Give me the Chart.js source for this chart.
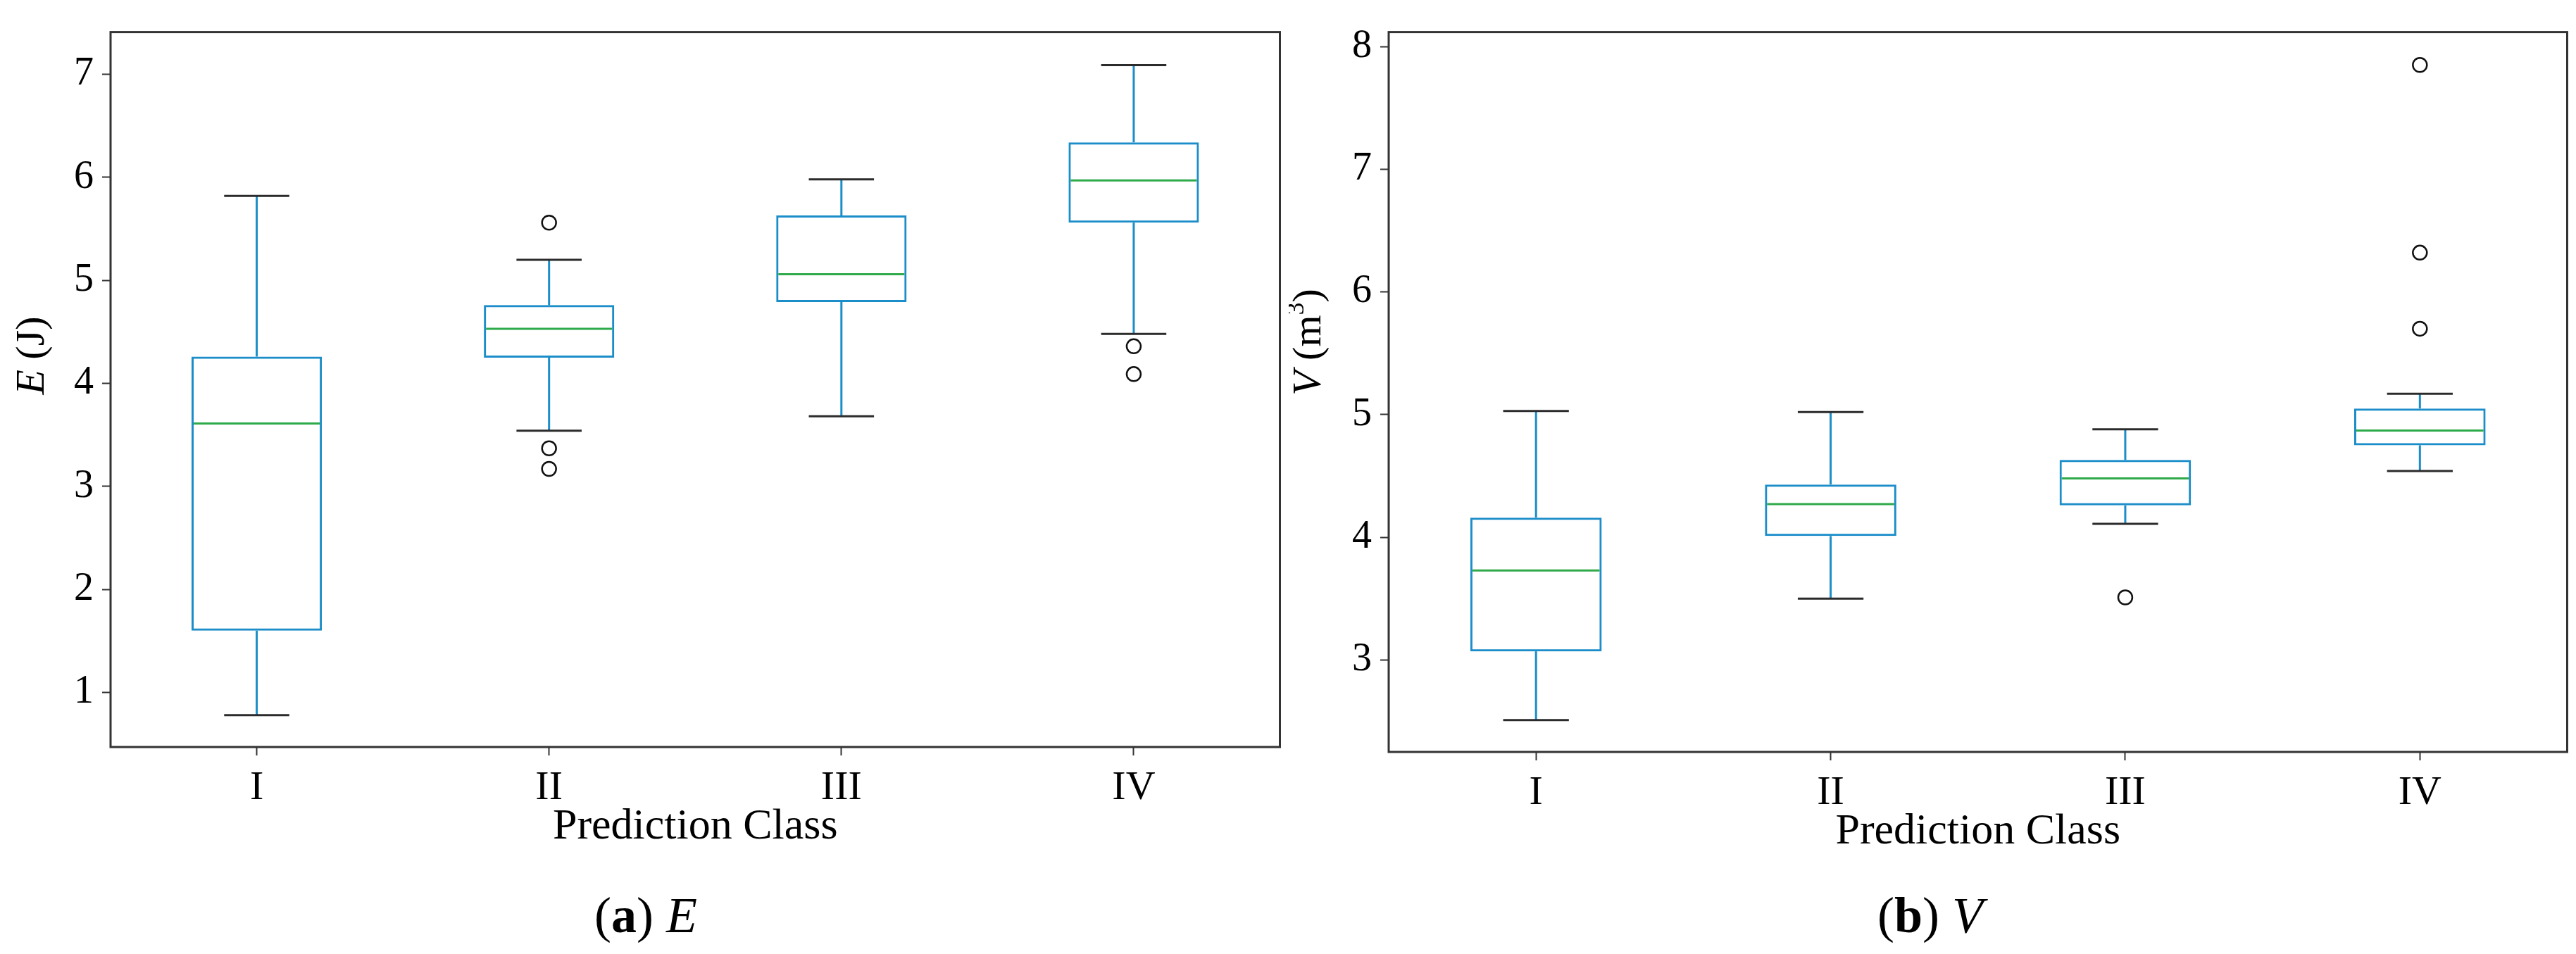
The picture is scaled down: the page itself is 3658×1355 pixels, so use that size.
<!DOCTYPE html>
<html><head><meta charset="utf-8">
<script src="https://cdn.jsdelivr.net/npm/chart.js@4.4.1/dist/chart.umd.min.js"></script>
<style>
html,body{margin:0;padding:0;background:#fff;}
body{width:3658px;height:1355px;position:relative;overflow:hidden;font-family:"Liberation Serif","Times New Roman",serif;}
.panel{position:absolute;}
.cap{position:absolute;text-align:center;font-size:72px;line-height:72px;color:#000;font-family:"Liberation Serif","Times New Roman",serif;}
</style></head><body>
<div class="panel" style="left:0;top:0;width:1830px;height:1230px;"><canvas id="cA"></canvas></div>
<div class="panel" style="left:1830px;top:0;width:1828px;height:1237px;"><canvas id="cB"></canvas></div>
<div class="cap" style="left:0;top:1264px;width:1834px;">(<b>a</b>) <i>E</i></div>
<div class="cap" style="left:1830px;top:1264px;width:1822px;">(<b>b</b>) <i>V</i></div>
<script>
const categories = ['I', 'II', 'III', 'IV'];

// Panel (a): E (J)
const eWhiskerLow  = [0.78, 3.54, 3.68, 4.48];
const eQ1          = [1.60, 4.25, 4.79, 5.56];
const eMedian      = [3.61, 4.53, 5.06, 5.97];
const eQ3          = [4.26, 4.76, 5.63, 6.34];
const eWhiskerHigh = [5.82, 5.20, 5.98, 7.09];
const eOutliers    = [[], [5.56, 3.37, 3.17], [], [4.36, 4.09]];
const eTicks       = [1, 2, 3, 4, 5, 6, 7];

// Panel (b): V (m3)
const vWhiskerLow  = [2.51, 3.50, 4.11, 4.54];
const vQ1          = [3.07, 4.01, 4.26, 4.75];
const vMedian      = [3.73, 4.27, 4.48, 4.87];
const vQ3          = [4.16, 4.43, 4.63, 5.05];
const vWhiskerHigh = [5.03, 5.02, 4.88, 5.17];
const vOutliers    = [[], [], [3.51], [7.85, 6.32, 5.70]];
const vTicks       = [3, 4, 5, 6, 7, 8];

const BLUE = '#1b8dc8';
const GREEN = '#2eaa4a';
const CAP = '#2b2b2b';
const FRAME = '#333333';
const FONT = '"Liberation Serif", "Times New Roman", serif';

Chart.defaults.font.family = FONT;
Chart.defaults.color = '#000';

function boxPlugin(stats, title) {
  return {
    id: 'boxExtras',
    afterDatasetsDraw(chart) {
      const ctx = chart.ctx;
      const y = chart.scales.y;
      const meta = chart.getDatasetMeta(0);
      ctx.save();
      ctx.lineCap = 'butt';
      stats.low.forEach((lo, i) => {
        const bar = meta.data[i];
        const cx = bar.x, w = bar.width;
        const pLo = y.getPixelForValue(lo);
        const pHi = y.getPixelForValue(stats.high[i]);
        const pQ1 = y.getPixelForValue(stats.q1[i]);
        const pQ3 = y.getPixelForValue(stats.q3[i]);
        const pMed = y.getPixelForValue(stats.med[i]);
        const seg = (x1, y1, x2, y2) => { ctx.beginPath(); ctx.moveTo(x1, y1); ctx.lineTo(x2, y2); ctx.stroke(); };
        ctx.lineWidth = 3;
        ctx.strokeStyle = BLUE;
        seg(cx, pQ3, cx, pHi);
        seg(cx, pQ1, cx, pLo);
        ctx.strokeStyle = CAP;
        seg(cx - w / 4, pHi, cx + w / 4, pHi);
        seg(cx - w / 4, pLo, cx + w / 4, pLo);
        ctx.strokeStyle = GREEN;
        seg(cx - w / 2 + 3, pMed, cx + w / 2 - 3, pMed);
      });
      const a = chart.chartArea;
      ctx.strokeStyle = FRAME;
      ctx.lineWidth = 3;
      ctx.strokeRect(a.left, a.top, a.right - a.left, a.bottom - a.top);
      // rotated y-axis title with mixed styles
      ctx.translate(title.x, title.y);
      ctx.rotate(-Math.PI / 2);
      ctx.fillStyle = '#000';
      ctx.textBaseline = 'alphabetic';
      ctx.textAlign = 'left';
      let total = 0;
      title.parts.forEach(p => { ctx.font = p.font; total += ctx.measureText(p.t).width; });
      let px = -total / 2;
      title.parts.forEach(p => { ctx.font = p.font; ctx.fillText(p.t, px, -(p.raise || 0)); px += ctx.measureText(p.t).width; });
      ctx.restore();
    }
  };
}

function makeChart(id, opts) {
  const boxes = categories.map((c, i) => [opts.q1[i], opts.q3[i]]);
  const pts = [];
  opts.outliers.forEach((arr, i) => arr.forEach(v => pts.push({ x: categories[i], y: v })));
  return new Chart(document.getElementById(id), {
    type: 'bar',
    data: {
      labels: categories,
      datasets: [
        {
          data: boxes,
          backgroundColor: 'rgba(255,255,255,0)',
          borderColor: BLUE,
          borderWidth: 3,
          borderSkipped: false,
          barPercentage: 0.446,
          categoryPercentage: 1
        },
        {
          type: 'scatter',
          data: pts,
          pointRadius: 10,
          pointBorderWidth: 2.5,
          pointBorderColor: '#111',
          pointBackgroundColor: 'rgba(0,0,0,0)',
          showLine: false
        }
      ]
    },
    options: {
      responsive: true,
      maintainAspectRatio: false,
      animation: false,
      events: [],
      layout: { padding: { top: opts.padTop, right: 12, left: 0, bottom: 0 } },
      plugins: { legend: { display: false }, tooltip: { enabled: false } },
      scales: {
        x: {
          type: 'category',
          offset: true,
          afterFit: s => { s.height = 169; },
          grid: { display: true, offset: false, drawOnChartArea: false, drawTicks: true, tickLength: 12, tickColor: FRAME, tickWidth: 2 },
          border: { display: false },
          ticks: { font: { size: 58 }, color: '#000', padding: 12, maxRotation: 0 },
          title: { display: true, text: 'Prediction Class', font: { size: 62 }, color: '#000', padding: { top: 0, bottom: 18 } }
        },
        y: {
          type: 'linear',
          min: opts.min,
          max: opts.max,
          afterFit: s => { s.width = opts.yWidth; },
          afterBuildTicks: s => { s.ticks = opts.ticks.map(v => ({ value: v })); },
          grid: { display: true, drawOnChartArea: false, drawTicks: true, tickLength: 12, tickColor: FRAME, tickWidth: 2 },
          border: { display: false },
          ticks: { font: { size: 56 }, color: '#000', padding: 12 }
        }
      }
    },
    plugins: [boxPlugin({ low: opts.low, high: opts.high, q1: opts.q1, q3: opts.q3, med: opts.med }, opts.title)]
  });
}

makeChart('cA', {
  q1: eQ1, q3: eQ3, med: eMedian, low: eWhiskerLow, high: eWhiskerHigh, outliers: eOutliers, ticks: eTicks,
  min: 0.47, max: 7.41, padTop: 29, yWidth: 157,
  title: { x: 62, y: 505, parts: [
    { t: 'E', font: 'italic 58px ' + FONT },
    { t: ' (J)', font: '58px ' + FONT }
  ] }
});

makeChart('cB', {
  q1: vQ1, q3: vQ3, med: vMedian, low: vWhiskerLow, high: vWhiskerHigh, outliers: vOutliers, ticks: vTicks,
  min: 2.25, max: 8.118, padTop: 27, yWidth: 142,
  title: { x: 45, y: 486, parts: [
    { t: 'V', font: 'italic 58px ' + FONT },
    { t: ' (m', font: '58px ' + FONT },
    { t: '3', font: '36px ' + FONT, raise: 24 },
    { t: ')', font: '58px ' + FONT }
  ] }
});
</script>
</body></html>
